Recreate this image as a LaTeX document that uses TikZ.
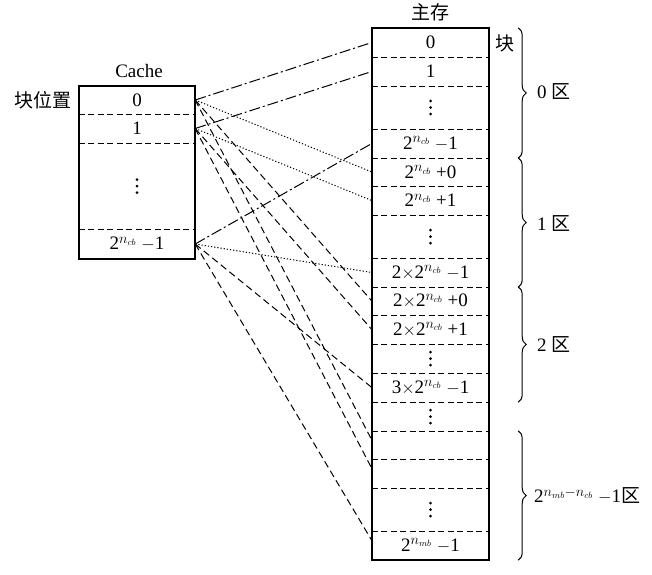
\documentclass[tikz,border=0pt]{standalone}
\usepackage{fontspec}
\setmainfont{Liberation Serif}
\newfontfamily\cjk{Noto Sans CJK SC}
\usetikzlibrary{decorations.pathreplacing}
% block number 2^{n_cb}
\newcommand{\pcb}{2$^{n_{cb}}$}
% three stacked dots at the centre of a cell
\newcommand{\stackdots}[1]{%
  \foreach \d in {-6.5,0,6.5} \fill ([yshift=\d pt]#1.center) circle (1.5pt);}
\begin{document}
\begin{tikzpicture}[x=1pt,y=-1pt,
  every node/.style={font=\fontsize{19}{22}\selectfont, inner sep=0pt},
  mcell/.style={minimum width=117pt},
  ccell/.style={minimum width=116pt},
  frame/.style={line width=1.7pt},
  divider/.style={line width=1.1pt, dash pattern=on 6pt off 3.5pt},
  dashdot/.style={line width=1pt, dash pattern=on 11pt off 3pt on 2pt off 3pt},
  dotline/.style={line width=1pt, dash pattern=on 1.2pt off 2pt},
  longdash/.style={line width=1pt, dash pattern=on 7pt off 4pt},
  bracket/.style={decorate, decoration={brace, amplitude=8pt}, line width=1pt}
]
\useasboundingbox (0,0) rectangle (652,574);

% ---- Cache ----
\node (cachetitle) at (139,71) {Cache};
\node (blockpos) at (43,100) {\cjk 块位置};
\node[ccell, minimum height=28pt] (c0) at (137,100) {0};
\node[ccell, minimum height=29pt] (c1) at (137,128.5) {1};
\node[ccell, minimum height=86pt] (c2) at (137,186) {};
\node[ccell, minimum height=30pt] (c3) at (137,244) {\pcb\ $-$1};
\stackdots{c2}
\foreach \i in {0,1,2}
  \draw[divider] (c\i.south west) -- (c\i.south east);
\draw[frame] (c0.north west) rectangle (c3.south east);

% ---- main memory ----
\node (memtitle) at (430,12) {\cjk 主存};
\node (blk) at (505,43) {\cjk 块};
\node[mcell, minimum height=29pt] (m0) at (430.5,42.5) {0};
\node[mcell, minimum height=29pt] (m1) at (430.5,71.5) {1};
\node[mcell, minimum height=43pt] (m2) at (430.5,107.5) {};
\node[mcell, minimum height=29pt] (m3) at (430.5,143.5) {\pcb\ $-$1};
\node[mcell, minimum height=28pt] (m4) at (430.5,172) {\pcb\ +0};
\node[mcell, minimum height=29pt] (m5) at (430.5,200.5) {\pcb\ +1};
\node[mcell, minimum height=43pt] (m6) at (430.5,236.5) {};
\node[mcell, minimum height=29pt] (m7) at (430.5,272.5) {2$\times$\pcb\ $-$1};
\node[mcell, minimum height=28pt] (m8) at (430.5,301) {2$\times$\pcb\ +0};
\node[mcell, minimum height=29pt] (m9) at (430.5,329.5) {2$\times$\pcb\ +1};
\node[mcell, minimum height=29pt] (m10) at (430.5,358.5) {};
\node[mcell, minimum height=29pt] (m11) at (430.5,387.5) {3$\times$\pcb\ $-$1};
\node[mcell, minimum height=29pt] (m12) at (430.5,416.5) {};
\node[mcell, minimum height=28pt] (m13) at (430.5,445) {};
\node[mcell, minimum height=29pt] (m14) at (430.5,473.5) {};
\node[mcell, minimum height=43pt] (m15) at (430.5,509.5) {};
\node[mcell, minimum height=29pt] (m16) at (430.5,545.5) {2$^{n_{mb}}$ $-$1};
\foreach \c in {m2,m6,m10,m12,m15} {\stackdots{\c}}
\foreach \i in {0,...,15}
  \draw[divider] (m\i.south west) -- (m\i.south east);
\draw[frame] (m0.north west) rectangle (m16.south east);

% ---- zone braces ----
\draw[bracket] ([xshift=29pt]m0.north east) -- ([xshift=29pt]m3.south east);
\draw[bracket] ([xshift=29pt]m4.north east) -- ([xshift=29pt]m7.south east);
\draw[bracket] ([xshift=29pt]m8.north east) -- ([xshift=29pt]m11.south east);
\draw[bracket] ([xshift=29pt]m13.north east) -- ([xshift=29pt]m16.south east);
\node[anchor=west] (z0) at (537,92) {0 {\cjk 区}};
\node[anchor=west] (z1) at (537,223) {1 {\cjk 区}};
\node[anchor=west] (z2) at (537,344) {2 {\cjk 区}};
\node[anchor=west] (zl) at (534,496) {2$^{n_{mb}-n_{cb}}$ $-$1{\cjk 区}};

% ---- mapping lines ----
\draw[dashdot]  (c0.east) -- (m0.west);
\draw[dotline]  (c0.east) -- (m4.west);
\draw[longdash] (c0.east) -- (m8.west);
\draw[longdash] (c0.east) -- ([yshift=5pt]m13.west);

\draw[dashdot]  (c1.east) -- (m1.west);
\draw[dotline]  (c1.east) -- (m5.west);
\draw[longdash] (c1.east) -- (m9.west);
\draw[longdash] (c1.east) -- ([yshift=5pt]m14.west);

\draw[dashdot]  (c3.east) -- (m3.west);
\draw[dotline]  (c3.east) -- (m7.west);
\draw[longdash] (c3.east) -- (m11.west);
\draw[longdash] (c3.east) -- ([yshift=5pt]m16.west);
\end{tikzpicture}
\end{document}
